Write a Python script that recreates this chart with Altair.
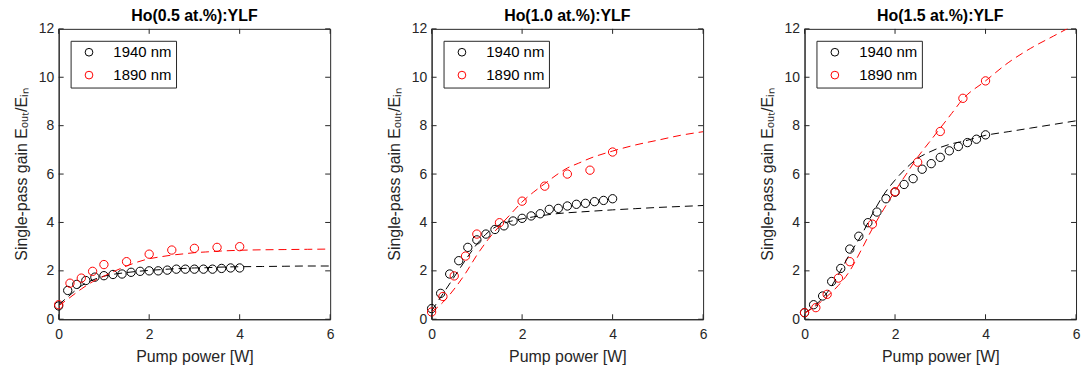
import altair as alt
import pandas as pd

# ---------------- data ----------------
X_1940 = [0.0, 0.2, 0.4, 0.6, 0.8, 1.0, 1.2, 1.4, 1.6, 1.8, 2.0,
          2.2, 2.4, 2.6, 2.8, 3.0, 3.2, 3.4, 3.6, 3.8, 4.0]
X_1890 = [0.0, 0.25, 0.5, 0.75, 1.0, 1.5, 2.0, 2.5, 3.0, 3.5, 4.0]
FIT_X = [0.0, 0.25, 0.5, 0.75, 1.0, 1.25, 1.5, 1.75, 2.0, 2.25, 2.5,
         2.75, 3.0, 3.25, 3.5, 4.0, 4.5, 5.0, 5.5, 6.0]

# Ho(0.5 at.%):YLF
Y1940_05 = [0.55, 1.19, 1.44, 1.6, 1.74, 1.8, 1.85, 1.87, 1.94, 1.98, 2.0,
            2.0, 2.03, 2.07, 2.07, 2.07, 2.07, 2.07, 2.1, 2.12, 2.12]
Y1890_05 = [0.6, 1.49, 1.7, 1.98, 2.26, 2.38, 2.69, 2.86, 2.93, 2.97, 3.0]
FIT1940_05 = [0.6, 1.0, 1.38, 1.62, 1.78, 1.87, 1.93, 1.98, 2.02, 2.05, 2.08,
              2.1, 2.12, 2.13, 2.15, 2.17, 2.18, 2.19, 2.2, 2.2]
FIT1890_05 = [0.55, 0.9, 1.25, 1.55, 1.78, 2.0, 2.2, 2.37, 2.5, 2.58, 2.65,
              2.7, 2.75, 2.78, 2.81, 2.85, 2.87, 2.88, 2.89, 2.9]

# Ho(1.0 at.%):YLF
Y1940_10 = [0.44, 1.07, 1.87, 2.42, 2.97, 3.28, 3.52, 3.71, 3.86, 4.06, 4.17,
            4.27, 4.36, 4.54, 4.58, 4.68, 4.75, 4.79, 4.86, 4.91, 4.98]
Y1890_10 = [0.3, 0.94, 1.79, 2.61, 3.52, 3.99, 4.88, 5.5, 6.0, 6.16, 6.91]
FIT1940_10 = [0.35, 1.05, 1.75, 2.45, 3.1, 3.6, 3.9, 4.05, 4.15, 4.23, 4.3,
              4.36, 4.4, 4.43, 4.46, 4.52, 4.57, 4.62, 4.66, 4.7]
FIT1890_10 = [0.3, 0.7, 1.25, 1.9, 2.65, 3.3, 3.85, 4.35, 4.85, 5.25, 5.6,
              5.95, 6.25, 6.45, 6.65, 6.95, 7.2, 7.4, 7.6, 7.75]

# Ho(1.5 at.%):YLF
Y1940_15 = [0.27, 0.6, 0.96, 1.56, 2.1, 2.9, 3.43, 3.99, 4.43, 4.98, 5.25,
            5.57, 5.81, 6.2, 6.43, 6.69, 6.96, 7.14, 7.3, 7.44, 7.62]
Y1890_15 = [0.27, 0.48, 1.03, 1.7, 2.38, 3.93, 5.27, 6.49, 7.76, 9.13, 9.85]
FIT1940_15 = [0.25, 0.6, 1.1, 1.85, 2.7, 3.45, 4.35, 5.15, 5.75, 6.25, 6.65,
              6.9, 7.1, 7.25, 7.35, 7.6, 7.75, 7.9, 8.05, 8.2]
FIT1890_15 = [0.25, 0.55, 0.95, 1.4, 2.0, 2.85, 3.75, 4.55, 5.3, 6.0, 6.7,
              7.3, 7.9, 8.5, 9.1, 9.85, 10.6, 11.2, 11.7, 12.2]

TITLES = ["Ho(0.5 at.%):YLF", "Ho(1.0 at.%):YLF", "Ho(1.5 at.%):YLF"]
SERIES = ["1940 nm", "1890 nm"]
COLORS = ["#000000", "#ff0000"]
X_TICKS = [0, 2, 4, 6]
Y_TICKS = [0, 2, 4, 6, 8, 10, 12]
X_TITLE = "Pump power [W]"
Y_TITLE = "Single-pass gain Eₒᵤₜ/Eᵢₙ"

FONT = "Liberation Sans"
AX = "#262626"
W, H = 273, 292
TICK = 5


def panel(title, y1940, y1890, f1940, f1890):
    pts = pd.DataFrame({
        "x": X_1940 + X_1890,
        "y": y1940 + y1890,
        "series": [SERIES[0]] * len(X_1940) + [SERIES[1]] * len(X_1890),
    })
    fit = pd.DataFrame({
        "x": FIT_X + FIT_X,
        "y": f1940 + f1890,
        "series": [SERIES[0]] * len(FIT_X) + [SERIES[1]] * len(FIT_X),
    })
    xs = alt.Scale(domain=[0, 6], nice=False, zero=False)
    ys = alt.Scale(domain=[0, 12], nice=False, zero=False)
    xaxis = alt.Axis(values=X_TICKS, ticks=False, grid=False, labelPadding=8,
                     titlePadding=7, format="d", labelFlush=False)
    yaxis = alt.Axis(values=Y_TICKS, ticks=False, grid=False, labelPadding=5,
                     titlePadding=9, format="d", labelFlush=False)
    X = alt.X("x:Q", scale=xs, axis=xaxis, title=X_TITLE)
    Y = alt.Y("y:Q", scale=ys, axis=yaxis, title=Y_TITLE)
    cscale = alt.Scale(domain=SERIES, range=COLORS)

    points = alt.Chart(pts).mark_point(
        shape="circle", filled=False, size=70, strokeWidth=1, opacity=1
    ).encode(
        x=X, y=Y,
        color=alt.Color("series:N", scale=cscale, sort=SERIES, legend=alt.Legend(
            title=None, orient="top-left", offset=12, padding=4,
            strokeColor=AX, fillColor="white", cornerRadius=0,
            labelFont=FONT, labelFontSize=15, labelColor="#000000",
            symbolType="circle", symbolSize=60, symbolStrokeWidth=1,
            symbolFillColor="transparent", symbolOffset=7, labelOffset=17,
            rowPadding=7,
        )),
    )
    lines = alt.Chart(fit).mark_line(
        strokeDash=[8, 5], strokeWidth=1, clip=True, interpolate="monotone"
    ).encode(
        x=X, y=Y,
        stroke=alt.Stroke("series:N", scale=cscale, sort=SERIES, legend=None),
    )

    xt = pd.DataFrame({"x": X_TICKS})
    yt = pd.DataFrame({"y": Y_TICKS})
    tick_style = dict(color=AX, strokeWidth=1)
    bottom = alt.Chart(xt).mark_rule(**tick_style).encode(
        x=X, y=alt.value(H), y2=alt.value(H - TICK))
    top = alt.Chart(xt).mark_rule(**tick_style).encode(
        x=X, y=alt.value(0), y2=alt.value(TICK))
    left = alt.Chart(yt).mark_rule(**tick_style).encode(
        y=Y, x=alt.value(0), x2=alt.value(TICK))
    right = alt.Chart(yt).mark_rule(**tick_style).encode(
        y=Y, x=alt.value(W - TICK), x2=alt.value(W))

    return alt.layer(points, lines, bottom, top, left, right).properties(
        width=W, height=H,
        title=alt.TitleParams(title, anchor="middle"),
    )


panels = [
    panel(TITLES[0], Y1940_05, Y1890_05, FIT1940_05, FIT1890_05),
    panel(TITLES[1], Y1940_10, Y1890_10, FIT1940_10, FIT1890_10),
    panel(TITLES[2], Y1940_15, Y1890_15, FIT1940_15, FIT1890_15),
]

chart = alt.hconcat(*panels, spacing=50).resolve_scale(
    color="independent", stroke="independent"
).resolve_legend(color="independent", stroke="independent").properties(
    padding={"left": 12, "top": 6, "right": 0, "bottom": 2},
    background="white",
).configure_view(
    stroke=AX, strokeWidth=1
).configure_axis(
    labelFont=FONT, labelFontSize=14, labelColor=AX,
    titleFont=FONT, titleFontSize=16, titleColor=AX, titleFontWeight="normal",
    domainColor=AX, domainWidth=1,
).configure_title(
    font=FONT, fontSize=16, fontWeight="bold", color="#000000", offset=-2,
)

chart.save("out.html", embed_options={"renderer": "svg", "actions": False})
